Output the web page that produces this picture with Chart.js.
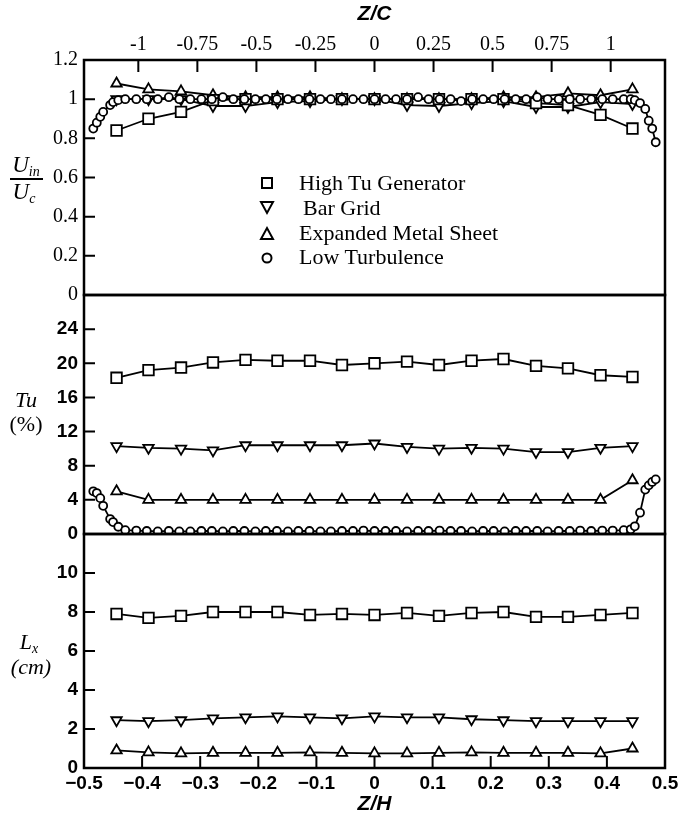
<!DOCTYPE html>
<html>
<head>
<meta charset="utf-8">
<script src="https://cdn.jsdelivr.net/npm/chart.js@4.4.1/dist/chart.umd.min.js"></script>
<style>
  body { margin: 0; background: #fff; }
  #wrap { position: relative; width: 678px; height: 821px; }
  canvas { position: absolute; left: 0; }
  .t { position: absolute; transform: translate(-50%, -50%); font-family: 'Liberation Serif', serif; color: #000; white-space: nowrap; line-height: 1; }
  .it { font-style: italic; }
  .t sub { font-size: 14px; vertical-align: -4px; }
  .leg { position: absolute; font-family: 'Liberation Serif', serif; font-size: 22px; color: #000; white-space: nowrap; line-height: 1; }
  .leg svg { position: absolute; left: -40px; top: 3px; }
</style>
</head>
<body>
<div id="wrap">
  <canvas id="c1" width="678" height="310" style="top:0"></canvas>
  <canvas id="c2" width="678" height="270" style="top:280px"></canvas>
  <canvas id="c3" width="678" height="302" style="top:519px"></canvas>

  <div class="t it" style="left:26px;top:166px;font-size:23px">U<sub>in</sub></div>
  <div style="position:absolute;left:10px;top:178px;width:33px;border-top:2px solid #000"></div>
  <div class="t it" style="left:24px;top:193px;font-size:23px">U<sub>c</sub></div>

  <div class="t it" style="left:26px;top:400px;font-size:22px">Tu</div>
  <div class="t" style="left:26px;top:424px;font-size:22px">(%)</div>

  <div class="t it" style="left:29px;top:643px;font-size:22px">L<sub>x</sub></div>
  <div class="t it" style="left:31px;top:667px;font-size:22px">(cm)</div>

  <div class="leg" style="left:299px;top:172px">
    <svg width="16" height="16"><rect x="3" y="3" width="10" height="10" fill="#fff" stroke="#000" stroke-width="2"/></svg>High Tu Generator</div>
  <div class="leg" style="left:303px;top:197px">
    <svg width="16" height="16" style="left:-44px"><polygon points="2,2 14,2 8,13" fill="#fff" stroke="#000" stroke-width="2"/></svg>Bar Grid</div>
  <div class="leg" style="left:299px;top:222px">
    <svg width="16" height="16"><polygon points="2,14 14,14 8,3" fill="#fff" stroke="#000" stroke-width="2"/></svg>Expanded Metal Sheet</div>
  <div class="leg" style="left:299px;top:246px">
    <svg width="16" height="16"><circle cx="8" cy="9" r="4.5" fill="#fff" stroke="#000" stroke-width="2"/></svg>Low Turbulence</div>
</div>

<script>
// axis ticks
const zhTicks = [-0.5, -0.4, -0.3, -0.2, -0.1, 0, 0.1, 0.2, 0.3, 0.4, 0.5];
const zcTicks = [-1, -0.75, -0.5, -0.25, 0, 0.25, 0.5, 0.75, 1];
const uTicks = [0, 0.2, 0.4, 0.6, 0.8, 1, 1.2];
const tuTicks = [0, 4, 8, 12, 16, 20, 24];
const lxTicks = [0, 2, 4, 6, 8, 10];
const zcPerZh = 2.46;

// Z/H stations for the three grids
const zhGrid = [-0.444, -0.389, -0.333, -0.278, -0.222, -0.167, -0.111, -0.056, 0,
  0.056, 0.111, 0.167, 0.222, 0.278, 0.333, 0.389, 0.444];

// Z/H stations for low turbulence traverse
const zhLow = [-0.484, -0.478, -0.472, -0.467, -0.455, -0.450, -0.441,
  -0.429, -0.410, -0.392, -0.373, -0.354, -0.336, -0.317, -0.298, -0.280, -0.261,
  -0.243, -0.224, -0.205, -0.187, -0.168, -0.149, -0.131, -0.112, -0.093, -0.075,
  -0.056, -0.037, -0.019, 0, 0.019, 0.037, 0.056, 0.075, 0.093, 0.112, 0.131,
  0.149, 0.168, 0.187, 0.205, 0.224, 0.243, 0.261, 0.280, 0.298, 0.317, 0.336,
  0.354, 0.373, 0.392, 0.410, 0.429,
  0.441, 0.448, 0.457, 0.466, 0.472, 0.478, 0.484];

// U_in / U_c
const highTuU = [0.84, 0.9, 0.935, 0.995, 1.0, 1.0, 1.0, 1.0, 1.0, 1.0, 1.0, 1.0, 1.0, 0.98, 0.97, 0.92, 0.85];
const barGridU = [1.0, 1.0, 1.0, 0.965, 0.965, 0.985, 0.99, 1.0, 1.0, 0.97, 0.965, 0.98, 0.99, 0.96, 0.96, 0.985, 0.975];
const expandedU = [1.08, 1.05, 1.04, 1.02, 1.01, 1.01, 1.01, 1.0, 1.0, 1.0, 1.0, 1.0, 1.01, 1.01, 1.03, 1.02, 1.05];
const lowTurbU = [0.85, 0.88, 0.91, 0.935, 0.97, 0.985, 0.995,
  1.0, 1.0, 1.0, 1.0, 1.01, 1.0, 1.0, 1.0, 1.0, 1.01, 1.0, 1.0, 1.0, 1.0, 1.0, 1.0,
  1.0, 1.0, 1.0, 1.0, 1.0, 1.0, 1.0, 1.0, 1.0, 1.0, 1.0, 1.01, 1.0, 1.0, 1.0, 0.99,
  1.0, 1.0, 1.0, 1.0, 1.0, 1.0, 1.01, 1.0, 1.0, 1.0, 1.0, 1.0, 1.0, 1.0, 1.0,
  1.0, 0.995, 0.98, 0.95, 0.89, 0.85, 0.78];

// Tu (%)
const highTuTu = [18.3, 19.2, 19.5, 20.1, 20.4, 20.3, 20.3, 19.8, 20.0, 20.2, 19.8, 20.3, 20.5, 19.7, 19.4, 18.6, 18.4];
const barGridTu = [10.3, 10.1, 10.0, 9.8, 10.4, 10.4, 10.4, 10.4, 10.6, 10.2, 10.0, 10.1, 10.0, 9.6, 9.6, 10.1, 10.3];
const expandedTu = [5.0, 4.0, 4.0, 4.0, 4.0, 4.0, 4.0, 4.0, 4.0, 4.0, 4.0, 4.0, 4.0, 4.0, 4.0, 4.0, 6.3];
const lowTurbTu = [5.0, 4.8, 4.2, 3.3, 1.75, 1.4, 0.85,
  0.45, 0.4, 0.35, 0.3, 0.35, 0.3, 0.3, 0.35, 0.35, 0.3, 0.35, 0.35, 0.3, 0.35, 0.35, 0.3,
  0.35, 0.35, 0.3, 0.3, 0.35, 0.35, 0.4, 0.35, 0.35, 0.35, 0.3, 0.35, 0.35, 0.4, 0.35,
  0.35, 0.3, 0.35, 0.35, 0.3, 0.35, 0.35, 0.35, 0.3, 0.35, 0.35, 0.4, 0.35, 0.4, 0.4, 0.45,
  0.55, 0.9, 2.5, 5.2, 5.7, 6.1, 6.4];

// L_x (cm)
const highTuLx = [7.9, 7.7, 7.8, 8.0, 8.0, 8.0, 7.85, 7.9, 7.85, 7.95, 7.8, 7.95, 8.0, 7.75, 7.75, 7.85, 7.95];
const barGridLx = [2.45, 2.4, 2.45, 2.55, 2.6, 2.65, 2.6, 2.55, 2.65, 2.6, 2.6, 2.5, 2.45, 2.4, 2.4, 2.4, 2.4];
const expandedLx = [0.9, 0.8, 0.75, 0.78, 0.78, 0.78, 0.8, 0.78, 0.75, 0.75, 0.78, 0.8, 0.78, 0.78, 0.78, 0.75, 1.0];

const serif = "'Liberation Serif', 'Times New Roman', serif";
const sans = "'Liberation Sans', Arial, sans-serif";
const serifFont = { family: serif, size: 20 };
const sansFont = { family: sans, size: 19, weight: 'bold' };

const markers = {
  square: { style: 'rect', r: 7.5, rot: 0 },
  down: { style: 'triangle', r: 6, rot: 180 },
  up: { style: 'triangle', r: 6, rot: 0 },
  circle: { style: 'circle', r: 4, rot: 0 }
};

function series(xs, ys, m) {
  return {
    data: xs.map((x, i) => ({ x: x, y: ys[i] })),
    showLine: true,
    borderColor: '#000',
    borderWidth: 1.8,
    pointStyle: m.style,
    pointRadius: m.r,
    pointRotation: m.rot,
    pointBackgroundColor: '#fff',
    pointBorderColor: '#000',
    pointBorderWidth: 1.8
  };
}

function yAxis(max, ticks, font) {
  return {
    type: 'linear', min: 0, max: max,
    afterBuildTicks: s => { s.ticks = ticks.map(v => ({ value: v })); },
    afterFit: s => { s.width = 84; s.paddingTop = 0; s.paddingBottom = 0; },
    grid: { display: false, drawTicks: false },
    border: { display: false },
    ticks: { font: font, color: '#000', padding: 6, callback: v => String(v) }
  };
}

const hiddenX = { type: 'linear', min: -0.5, max: 0.5, display: false };

// frame + inward tick marks
const inTicks = {
  id: 'inTicks',
  afterDatasetsDraw(chart) {
    const { ctx, chartArea: a, scales } = chart;
    ctx.save();
    ctx.strokeStyle = '#000';
    ctx.lineWidth = 2;
    ctx.beginPath();
    const y = scales.y;
    y.ticks.forEach(t => {
      const p = y.getPixelForValue(t.value);
      if (p > a.top + 2 && p < a.bottom - 2) { ctx.moveTo(a.left, p); ctx.lineTo(a.left + 11, p); }
    });
    ['x', 'x2'].forEach(id => {
      const s = scales[id];
      if (!s || s.options.display === false) return;
      s.ticks.forEach(t => {
        const p = s.getPixelForValue(t.value);
        if (p > a.left + 2 && p < a.right - 2) {
          if (s.position === 'top') { ctx.moveTo(p, a.top); ctx.lineTo(p, a.top + 12); }
          else { ctx.moveTo(p, a.bottom); ctx.lineTo(p, a.bottom - 12); }
        }
      });
    });
    ctx.stroke();
    ctx.lineWidth = 2.5;
    ctx.strokeRect(a.left, a.top, a.width, a.height);
    ctx.restore();
  }
};

function makeChart(id, datasets, scales, padding) {
  return new Chart(document.getElementById(id), {
    type: 'scatter',
    data: { datasets: datasets },
    options: {
      responsive: false,
      animation: false,
      events: [],
      layout: { padding: padding },
      plugins: { legend: { display: false }, tooltip: { enabled: false } },
      scales: scales
    },
    plugins: [inTicks]
  });
}

// panel 1: U_in / U_c with Z/C on top
makeChart('c1', [
  series(zhLow, lowTurbU, markers.circle),
  series(zhGrid, highTuU, markers.square),
  series(zhGrid, barGridU, markers.down),
  series(zhGrid, expandedU, markers.up)
], {
  x: hiddenX,
  x2: {
    type: 'linear', position: 'top',
    min: -0.5 * zcPerZh, max: 0.5 * zcPerZh,
    afterBuildTicks: s => { s.ticks = zcTicks.map(v => ({ value: v })); },
    afterFit: s => { s.height = 60; s.paddingLeft = 0; s.paddingRight = 0; },
    grid: { display: false, drawTicks: false },
    border: { display: false },
    ticks: { font: serifFont, color: '#000', padding: 3, maxRotation: 0, callback: v => String(v) },
    title: { display: true, text: 'Z/C', color: '#000', padding: { top: 2, bottom: 0 },
      font: { family: sans, size: 21, style: 'italic', weight: 'bold' } }
  },
  y: yAxis(1.2, uTicks, serifFont)
}, { top: 0, bottom: 15, left: 0, right: 13 });

// panel 2: Tu
makeChart('c2', [
  series(zhLow, lowTurbTu, markers.circle),
  series(zhGrid, highTuTu, markers.square),
  series(zhGrid, barGridTu, markers.down),
  series(zhGrid, expandedTu, markers.up)
], {
  x: hiddenX,
  y: yAxis(28, tuTicks, sansFont)
}, { top: 15, bottom: 16, left: 0, right: 13 });

// panel 3: L_x with Z/H at the bottom
makeChart('c3', [
  series(zhGrid, highTuLx, markers.square),
  series(zhGrid, barGridLx, markers.down),
  series(zhGrid, expandedLx, markers.up)
], {
  x: {
    type: 'linear', position: 'bottom', min: -0.5, max: 0.5,
    afterBuildTicks: s => { s.ticks = zhTicks.map(v => ({ value: v })); },
    afterFit: s => { s.height = 53; s.paddingLeft = 0; s.paddingRight = 0; },
    grid: { display: false, drawTicks: false },
    border: { display: false },
    ticks: { font: sansFont, color: '#000', padding: 4, maxRotation: 0,
      callback: v => v < 0 ? '\u2212' + Math.abs(v) : String(v) },
    title: { display: true, text: 'Z/H', color: '#000', padding: { top: 0, bottom: 4 },
      font: { family: sans, size: 21, style: 'italic', weight: 'bold' } }
  },
  y: yAxis(12, lxTicks, sansFont)
}, { top: 15, bottom: 0, left: 0, right: 13 });
</script>
</body>
</html>
